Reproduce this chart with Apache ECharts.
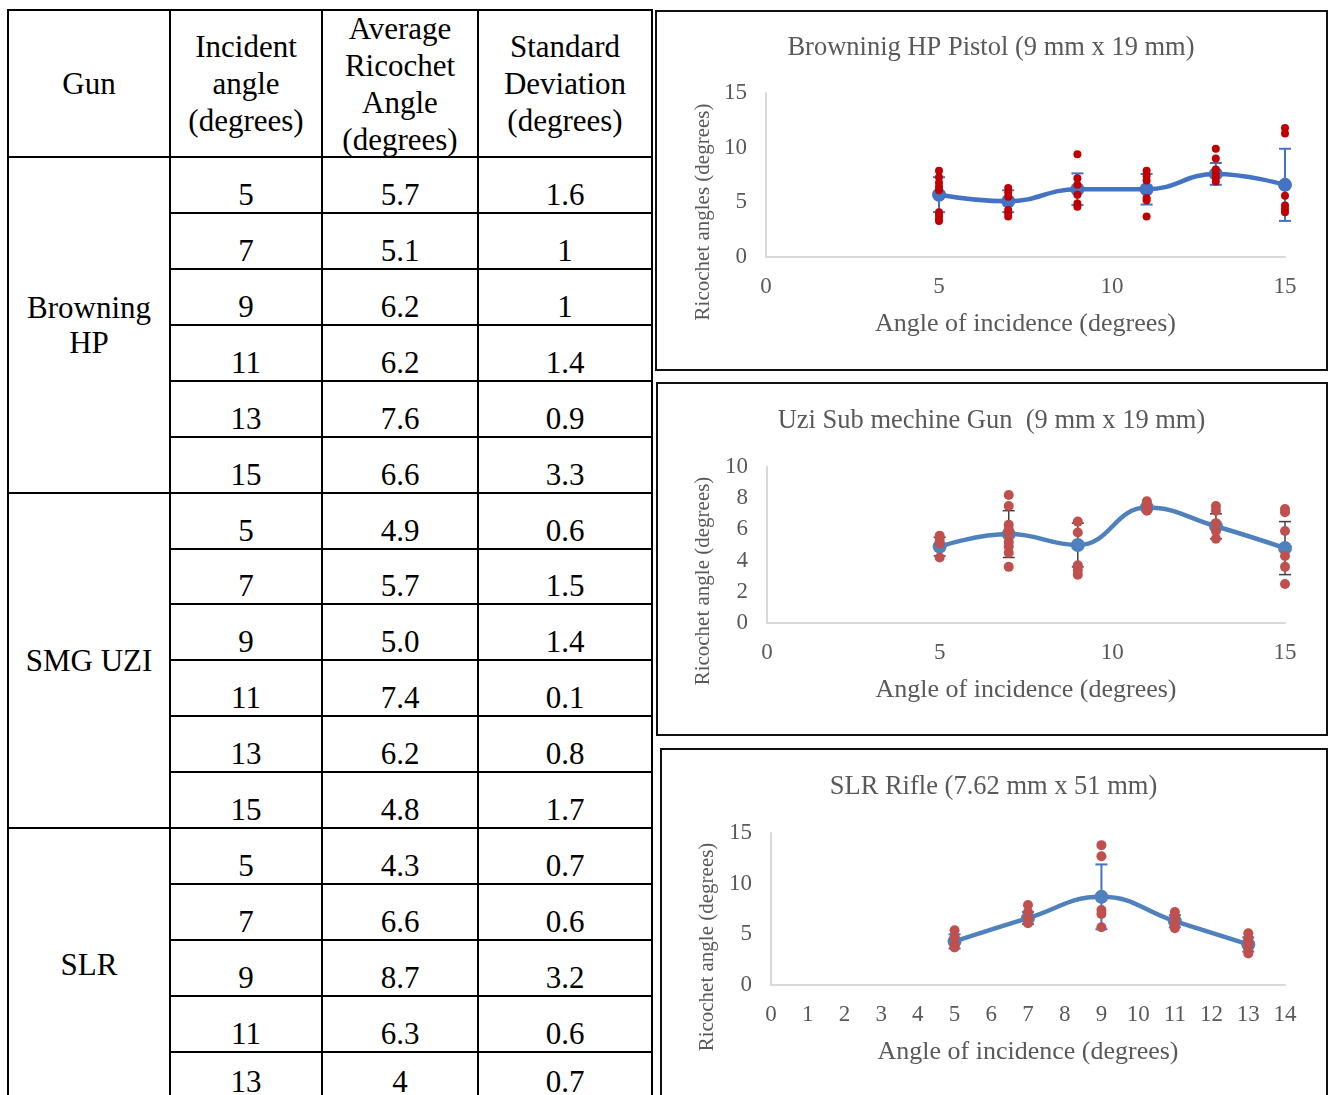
<!DOCTYPE html>
<html>
<head>
<meta charset="utf-8">
<script src="https://cdn.jsdelivr.net/npm/echarts@6/dist/echarts.min.js"></script>
<style>
  html, body { margin: 0; padding: 0; background: #fff; }
  body { width: 1331px; height: 1095px; overflow: hidden; position: relative; font-family: 'Liberation Serif', 'Times New Roman', serif; }
  .ln { position: absolute; background: #000; }
  .cell { position: absolute; display: flex; justify-content: center; text-align: center; font-size: 31px; color: #000; }
  .chart { position: absolute; }
  .frame { position: absolute; border: 2px solid #111; box-sizing: border-box; pointer-events: none; }
</style>
</head>
<body>
<div id="table"></div>
<div id="c1" class="chart" style="left:655px;top:10px;width:672px;height:360px"></div>
<div class="frame" style="left:655px;top:10px;width:673px;height:361px"></div>
<div id="c2" class="chart" style="left:656px;top:382px;width:671px;height:354px"></div>
<div class="frame" style="left:656px;top:382px;width:672px;height:354px"></div>
<div id="c3" class="chart" style="left:660px;top:748px;width:667px;height:362px"></div>
<div class="frame" style="left:660px;top:748px;width:668px;height:362px"></div>

<script>
// table data
var headers = ['Gun', 'Incident<br>angle<br>(degrees)', 'Average<br>Ricochet<br>Angle<br>(degrees)', 'Standard<br>Deviation<br>(degrees)'];
var guns = ['Browning<br>HP', 'SMG UZI', 'SLR'];

var hpAngles = [5, 7, 9, 11, 13, 15];
var hpMean = ['5.7', '5.1', '6.2', '6.2', '7.6', '6.6'];
var hpSd = ['1.6', '1', '1', '1.4', '0.9', '3.3'];

var uziAngles = [5, 7, 9, 11, 13, 15];
var uziMean = ['4.9', '5.7', '5.0', '7.4', '6.2', '4.8'];
var uziSd = ['0.6', '1.5', '1.4', '0.1', '0.8', '1.7'];

var slrAngles = [5, 7, 9, 11, 13];
var slrMean = ['4.3', '6.6', '8.7', '6.3', '4'];
var slrSd = ['0.7', '0.6', '3.2', '0.6', '0.7'];

// error bar sizes as drawn in the Browning chart
var hpErr = [1.6, 1.0, 1.45, 1.4, 1.0, 3.3];

// individual shots, one list per incident angle
var hpShots = [
  [7.9, 7.3, 6.8, 6.4, 6.1, 4.1, 3.8, 3.5, 3.3],
  [6.3, 5.9, 5.5, 4.3, 4.0, 3.7],
  [9.4, 7.2, 6.6, 5.7, 4.9, 4.6],
  [7.9, 7.4, 7.0, 5.4, 5.2, 3.7],
  [9.9, 9.0, 8.0, 7.6, 7.3, 6.9],
  [11.8, 11.3, 5.6, 4.7, 4.4, 4.1]
];
var uziShots = [
  [5.6, 5.4, 5.1, 4.2],
  [8.2, 7.5, 6.3, 6.0, 5.7, 5.2, 4.9, 4.5, 3.6],
  [6.5, 5.8, 3.7, 3.4, 3.1],
  [7.8, 7.6, 7.4, 7.2],
  [7.5, 7.2, 6.4, 5.9, 5.4],
  [7.3, 7.1, 5.9, 4.3, 3.6, 2.5]
];
var slrShots = [
  [5.4, 4.7, 4.0, 3.7],
  [7.9, 7.2, 6.6, 6.1],
  [13.8, 12.7, 7.4, 7.0, 5.7],
  [7.2, 6.7, 6.1, 5.6],
  [5.1, 4.6, 4.1, 3.6, 3.1]
];

// ---- table ----
var tbl = document.getElementById('table');
var colX = [8, 170, 322, 478, 652];
var headTop = 10, headBottom = 157, rowH = 55.93;

function line(x, y, w, h) {
  var d = document.createElement('div');
  d.className = 'ln';
  d.style.left = x + 'px'; d.style.top = y + 'px';
  d.style.width = w + 'px'; d.style.height = h + 'px';
  tbl.appendChild(d);
}
function cell(html, x1, x2, y1, y2, align, lh) {
  var d = document.createElement('div');
  d.className = 'cell';
  d.style.left = x1 + 'px'; d.style.width = (x2 - x1) + 'px';
  d.style.top = y1 + 'px'; d.style.height = (y2 - y1) + 'px';
  d.style.alignItems = align;
  d.style.lineHeight = lh + 'px';
  d.innerHTML = '<div>' + html + '</div>';
  tbl.appendChild(d);
}

for (var c = 0; c < 4; c++) {
  cell(headers[c], colX[c], colX[c + 1], headTop, headBottom, 'center', 37);
}
colX.forEach(function (x) { line(x - 1, headTop - 1, 2, 1100); });
line(colX[0] - 1, headTop - 1, colX[4] - colX[0] + 2, 2);
line(colX[0] - 1, headBottom - 1, colX[4] - colX[0] + 2, 2);

var groups = [
  { angles: hpAngles, mean: hpMean, sd: hpSd },
  { angles: uziAngles, mean: uziMean, sd: uziSd },
  { angles: slrAngles, mean: slrMean, sd: slrSd }
];
var r = 0;
groups.forEach(function (g, gi) {
  var gTop = headBottom + r * rowH;
  g.angles.forEach(function (a, i) {
    var y1 = headBottom + r * rowH;
    var last = gi === groups.length - 1 && i === g.angles.length - 1;
    var y2 = last ? y1 + 48 : y1 + rowH;
    var vals = [String(a), g.mean[i], g.sd[i]];
    for (var k = 0; k < 3; k++) {
      cell(vals[k], colX[k + 1], colX[k + 2], y1, y2, 'flex-end', 37);
    }
    if (i > 0) line(colX[1] - 1, Math.round(y1) - 1, colX[4] - colX[1] + 2, 2);
    r++;
  });
  var gBottom = gi === groups.length - 1 ? headBottom + (r - 1) * rowH + 48 : headBottom + r * rowH;
  cell(guns[gi], colX[0], colX[1], gTop, gBottom, 'center', 35);
  if (gi < groups.length - 1) line(colX[0] - 1, Math.round(gBottom) - 1, colX[4] - colX[0] + 2, 2);
});

// ---- charts ----
var FONT = 'Liberation Serif';
var GREY = '#595959';

function errorSeries(angles, mean, err, color, width) {
  var data = angles.map(function (a, i) { return [a, mean[i] - err[i], mean[i] + err[i]]; });
  return {
    type: 'custom',
    data: data,
    encode: { x: 0, y: [1, 2] },
    z: 2,
    renderItem: function (params, api) {
      var x = api.value(0);
      var lo = api.coord([x, api.value(1)]);
      var hi = api.coord([x, api.value(2)]);
      var w = 6;
      var st = { stroke: color, lineWidth: width };
      return {
        type: 'group',
        children: [
          { type: 'line', shape: { x1: lo[0], y1: lo[1], x2: hi[0], y2: hi[1] }, style: st },
          { type: 'line', shape: { x1: lo[0] - w, y1: lo[1], x2: lo[0] + w, y2: lo[1] }, style: st },
          { type: 'line', shape: { x1: hi[0] - w, y1: hi[1], x2: hi[0] + w, y2: hi[1] }, style: st }
        ]
      };
    }
  };
}

function shotsData(angles, shots) {
  var out = [];
  angles.forEach(function (a, i) {
    shots[i].forEach(function (v) { out.push([a, v]); });
  });
  return out;
}

function makeChart(id, cfg) {
  var chart = echarts.init(document.getElementById(id), null, { renderer: 'canvas' });
  var means = cfg.mean.map(Number);
  chart.setOption({
    animation: false,
    backgroundColor: 'transparent',
    title: {
      text: cfg.title,
      left: 'center',
      top: cfg.titleTop,
      textStyle: { fontFamily: FONT, fontSize: 26.5, fontWeight: 'normal', color: GREY }
    },
    grid: cfg.grid,
    xAxis: {
      type: 'value',
      min: 0,
      max: cfg.xMax,
      interval: cfg.xStep,
      axisLine: { show: true, lineStyle: { color: '#D9D9D9', width: 2 } },
      axisTick: { show: false },
      splitLine: { show: false },
      axisLabel: { color: GREY, fontFamily: FONT, fontSize: 23, margin: 18 },
      name: 'Angle of incidence (degrees)',
      nameLocation: 'middle',
      nameGap: 54,
      nameTextStyle: { color: GREY, fontFamily: FONT, fontSize: 26 }
    },
    yAxis: {
      type: 'value',
      min: 0,
      max: cfg.yMax,
      interval: cfg.yStep,
      axisLine: { show: true, lineStyle: { color: '#D9D9D9', width: 2 } },
      axisTick: { show: false },
      splitLine: { show: false },
      axisLabel: { color: GREY, fontFamily: FONT, fontSize: 23, margin: 19 }
    },
    graphic: [{
      type: 'text',
      x: cfg.yName[0],
      y: cfg.yName[1],
      rotation: Math.PI / 2,
      style: {
        text: cfg.yTitle,
        fill: GREY,
        font: '21px "Liberation Serif"',
        textAlign: 'center',
        textVerticalAlign: 'middle'
      }
    }],
    series: [
      errorSeries(cfg.angles, means, cfg.err, cfg.errColor, cfg.errWidth),
      {
        type: 'line',
        data: cfg.angles.map(function (a, i) { return [a, means[i]]; }),
        smooth: 0.45,
        symbol: 'circle',
        symbolSize: 14,
        z: 3,
        lineStyle: { color: cfg.lineColor, width: 4.5 },
        itemStyle: { color: cfg.lineColor }
      },
      {
        type: 'scatter',
        data: shotsData(cfg.angles, cfg.shots),
        symbolSize: cfg.dotSize,
        z: 4,
        itemStyle: { color: cfg.dotColor, opacity: 1 }
      }
    ]
  });
  return chart;
}

makeChart('c1', {
  title: 'Browninig HP Pistol (9 mm x 19 mm)',
  yTitle: 'Ricochet angles (degrees)',
  titleTop: 20,
  grid: { left: 111, right: 42, top: 83, bottom: 113 },
  xMax: 15, xStep: 5, yMax: 15, yStep: 5,
  yName: [48, 202],
  angles: hpAngles, mean: hpMean, err: hpErr, shots: hpShots,
  lineColor: '#4472C4', errColor: '#4472C4', errWidth: 2,
  dotColor: '#C00000', dotSize: 8
});

makeChart('c2', {
  title: 'Uzi Sub mechine Gun  (9 mm x 19 mm)',
  yTitle: 'Ricochet angle (degrees)',
  titleTop: 21,
  grid: { left: 111, right: 42, top: 85, bottom: 113 },
  xMax: 15, xStep: 5, yMax: 10, yStep: 2,
  yName: [47, 199],
  angles: uziAngles, mean: uziMean, err: uziSd.map(Number), shots: uziShots,
  lineColor: '#4F81BD', errColor: '#404040', errWidth: 1.5,
  dotColor: '#C0504D', dotSize: 10
});

makeChart('c3', {
  title: 'SLR Rifle (7.62 mm x 51 mm)',
  yTitle: 'Ricochet angle (degrees)',
  titleTop: 21,
  grid: { left: 111, right: 42, top: 85, bottom: 125 },
  xMax: 14, xStep: 1, yMax: 15, yStep: 5,
  yName: [47, 199],
  angles: slrAngles, mean: slrMean, err: slrSd.map(Number), shots: slrShots,
  lineColor: '#4F81BD', errColor: '#4472C4', errWidth: 2,
  dotColor: '#C0504D', dotSize: 10
});
</script>
</body>
</html>
